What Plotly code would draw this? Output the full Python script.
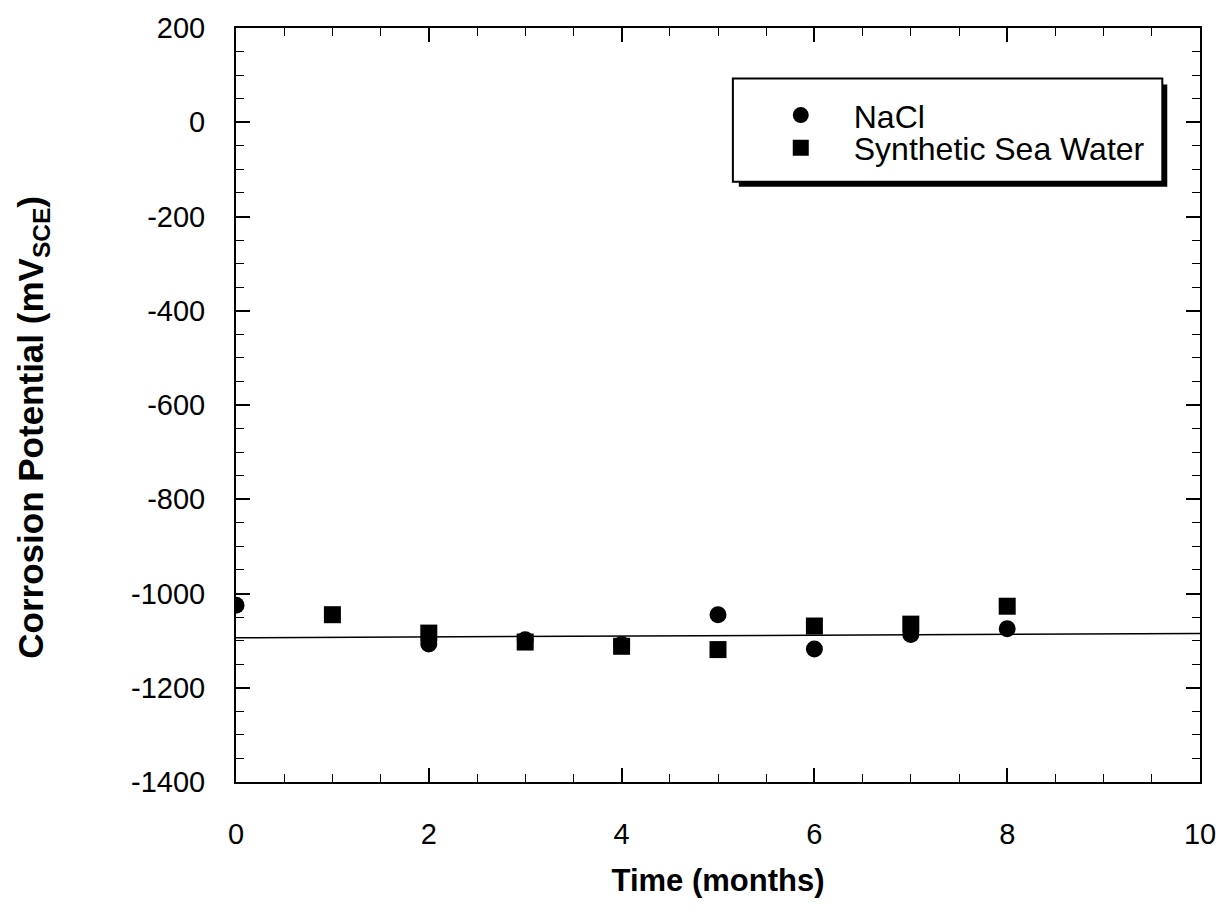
import plotly.graph_objects as go

# Data
months_nacl = [0, 2, 3, 4, 5, 6, 7, 8]
ecorr_nacl = [-1025, -1107, -1098, -1108, -1045, -1118, -1087, -1075]
months_ssw = [1, 2, 3, 4, 5, 6, 7, 8]
ecorr_ssw = [-1045, -1084, -1103, -1112, -1119, -1069, -1065, -1027]
fit_x = [0, 10]
fit_y = [-1094, -1085]

x_tickvals = [0, 2, 4, 6, 8, 10]
x_ticktext = ["0", "2", "4", "6", "8", "10"]
y_tickvals = [200, 0, -200, -400, -600, -800, -1000, -1200, -1400]
y_ticktext = ["200", "0", "-200", "-400", "-600", "-800", "-1000", "-1200", "-1400"]

FONT = "Liberation Sans, Arial, sans-serif"

fig = go.Figure()
fig.add_trace(go.Scatter(x=fit_x, y=fit_y, mode="lines",
                         line=dict(color="black", width=1.5), showlegend=False,
                         hoverinfo="skip"))
fig.add_trace(go.Scatter(x=months_nacl, y=ecorr_nacl, mode="markers", name="NaCl",
                         marker=dict(symbol="circle", size=17, color="black"),
                         legend="legend"))
fig.add_trace(go.Scatter(x=months_ssw, y=ecorr_ssw, mode="markers", name="Synthetic Sea Water",
                         marker=dict(symbol="square", size=17, color="black"),
                         legend="legend2"))

L, R, T, B = 236, 20, 22, 131
W, H = 1228, 913
pw, ph = W - L - R, H - T - B

def px(xp):
    return (xp - L) / pw

def py(yp):
    return (H - B - yp) / ph

# legend frame with drop shadow
shapes = [
    dict(type="rect", xref="paper", yref="paper",
         x0=px(743), x1=px(1175), y0=py(182), y1=py(79),
         fillcolor="black", line=dict(width=0), layer="above"),
    dict(type="rect", xref="paper", yref="paper",
         x0=px(737), x1=px(1170), y0=py(177), y1=py(73),
         fillcolor="white", line=dict(color="black", width=2), layer="above"),
]

leg_common = dict(font=dict(family=FONT, size=32, color="black"),
                  bgcolor="rgba(0,0,0,0)", borderwidth=0, itemwidth=96,
                  xanchor="left", yanchor="middle")

axis_common = dict(showgrid=False, zeroline=False, showline=True, linecolor="black",
                   linewidth=2, mirror="ticks", ticks="inside", ticklen=14, tickwidth=1.5,
                   tickcolor="black", tickmode="array",
                   tickfont=dict(family=FONT, size=29, color="black"))

y_title = "<b>Corrosion Potential (mV<sub>SCE</sub>)\u2003 </b>"

fig.update_layout(
    width=W, height=H,
    margin=dict(l=L, r=R, t=T, b=B),
    plot_bgcolor="white", paper_bgcolor="white",
    font=dict(family=FONT, color="black"),
    shapes=shapes,
    legend=dict(x=px(752), y=py(110), **leg_common),
    legend2=dict(x=px(752), y=py(143), **leg_common),
    xaxis=dict(range=[0, 10], tickvals=x_tickvals, ticktext=x_ticktext,
               minor=dict(dtick=0.5, tick0=0, ticks="inside", ticklen=8, tickcolor="black", tickwidth=1.2),
               title=dict(text="<b>Time (months)</b>", font=dict(family=FONT, size=31, color="black"),
                          standoff=21),
               ticklabelstandoff=25,
               **axis_common),
    yaxis=dict(range=[-1400, 200], tickvals=y_tickvals, ticktext=y_ticktext,
               minor=dict(dtick=50, tick0=0, ticks="inside", ticklen=8, tickcolor="black", tickwidth=1.2),
               title=dict(text=y_title,
                          font=dict(family=FONT, size=35, color="black"), standoff=77),
               ticklabelstandoff=23,
               **axis_common),
    showlegend=True,
)

post = (
    "document.documentElement.style.margin='0';"
    "document.body.style.margin='0';document.body.style.padding='0';"
    "document.body.style.overflow='hidden';"
    "document.documentElement.style.overflow='hidden';"
    "var gd=document.getElementById('{plot_id}');"
    "gd.style.overflow='hidden';"
    "if(gd.parentNode){gd.parentNode.style.height='913px';gd.parentNode.style.overflow='hidden';}"
    "gd.querySelectorAll('.svg-container').forEach(function(e){e.style.display='block';});"
)

fig.write_html("out.html", config={"displayModeBar": False}, post_script=post)
